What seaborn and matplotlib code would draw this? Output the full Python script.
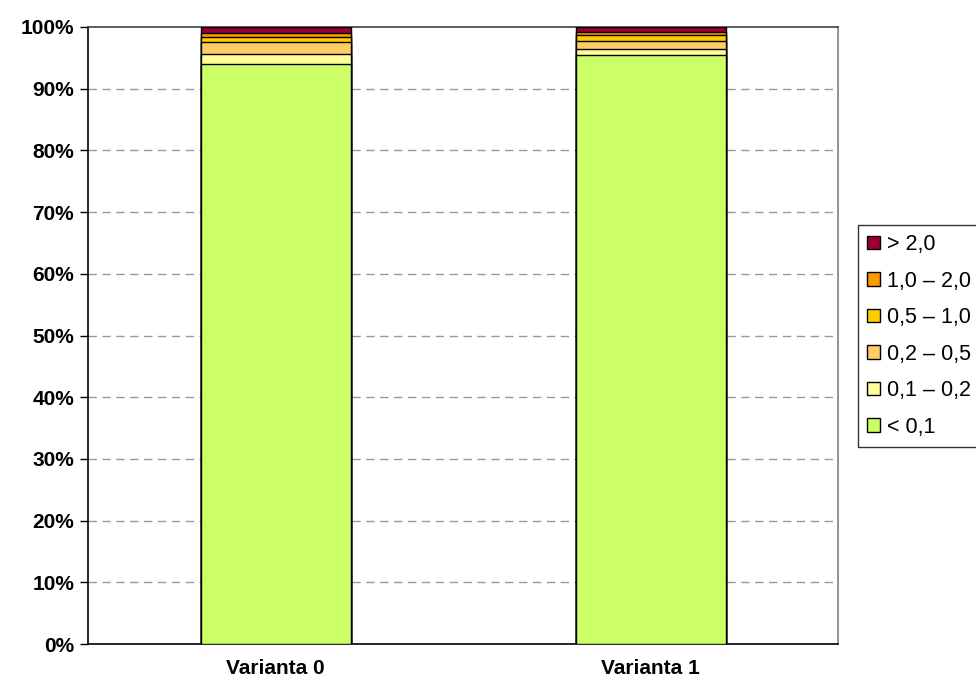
import matplotlib
matplotlib.use("Agg")
import matplotlib.pyplot as plt
import seaborn as sns
import pandas as pd
import numpy as np
from matplotlib.patches import Patch
from matplotlib.ticker import MultipleLocator, FuncFormatter

# Share of area (%) by class, per variant
variants = ["Varianta 0", "Varianta 1"]
classes = ["< 0,1", "0,1 – 0,2", "0,2 – 0,5", "0,5 – 1,0", "1,0 – 2,0", "> 2,0"]
share_v0 = [94.0, 1.7, 1.8, 0.9, 0.7, 0.9]
share_v1 = [95.5, 1.0, 1.2, 1.0, 0.5, 0.8]
colors = ["#CCFF66", "#FFFF99", "#FFCC66", "#FFCC00", "#FF9900", "#990033"]

sns.set_style("white")
plt.rcParams["font.family"] = ["Liberation Sans", "DejaVu Sans"]
plt.rcParams["text.color"] = "black"
plt.rcParams["xtick.color"] = "black"
plt.rcParams["ytick.color"] = "black"

# Long table with cumulative tops for stacking
rows = []
for v, shares in zip(variants, [share_v0, share_v1]):
    cum = np.cumsum(shares)
    for c, s, t in zip(classes, shares, cum):
        rows.append({"variant": v, "cls": c, "share": s, "top": t})
df = pd.DataFrame(rows)

fig = plt.figure(figsize=(9.76, 6.89), dpi=100)
ax = fig.add_axes([88 / 976, 45 / 689, 750 / 976, 617 / 689])

# Draw from the top layer down so each lower segment covers the one above it
for cls, col in reversed(list(zip(classes, colors))):
    sub = df[df["cls"] == cls]
    sns.barplot(data=sub, x="variant", y="top", order=variants, color=col,
                saturation=1, width=0.4, edgecolor="black", linewidth=1,
                errorbar=None, ax=ax, zorder=3)

ax.set_ylim(0, 100)
ax.set_xlim(-0.5, 1.5)
ax.yaxis.set_major_locator(MultipleLocator(10))
ax.yaxis.set_major_formatter(FuncFormatter(lambda v, p: f"{v:.0f}%"))
ax.set_xlabel("")
ax.set_ylabel("")

for y in range(10, 100, 10):
    ax.axhline(y, color="#999999", linestyle=(0, (6, 4)), linewidth=1, zorder=1)

ax.tick_params(axis="y", direction="out", length=6, width=1, color="black",
               labelcolor="black", labelsize=15, pad=4, left=True)
ax.tick_params(axis="x", length=0, labelsize=15, labelcolor="black", pad=11)
for lab in ax.get_xticklabels() + ax.get_yticklabels():
    lab.set_fontweight("bold")

ax.spines["left"].set_color("black")
ax.spines["bottom"].set_color("black")
ax.spines["top"].set_color("#404040")
ax.spines["right"].set_color("#808080")
for s in ax.spines.values():
    s.set_linewidth(1.2)
    s.set_visible(True)

handles = [Patch(facecolor=c, edgecolor="black", linewidth=1, label=l)
           for l, c in zip(classes, colors)][::-1]
leg = fig.legend(handles=handles, loc="upper left",
                 bbox_to_anchor=(858 / 976, 1 - 225 / 689),
                 frameon=True, fancybox=False, edgecolor="black",
                 fontsize=15.5, handlelength=0.6, handleheight=0.6,
                 handletextpad=0.35, labelspacing=0.72, borderpad=0.42,
                 borderaxespad=0)
leg.get_frame().set_linewidth(1)
for t in leg.get_texts():
    t.set_color("black")

fig.savefig("out.png", dpi=100)
